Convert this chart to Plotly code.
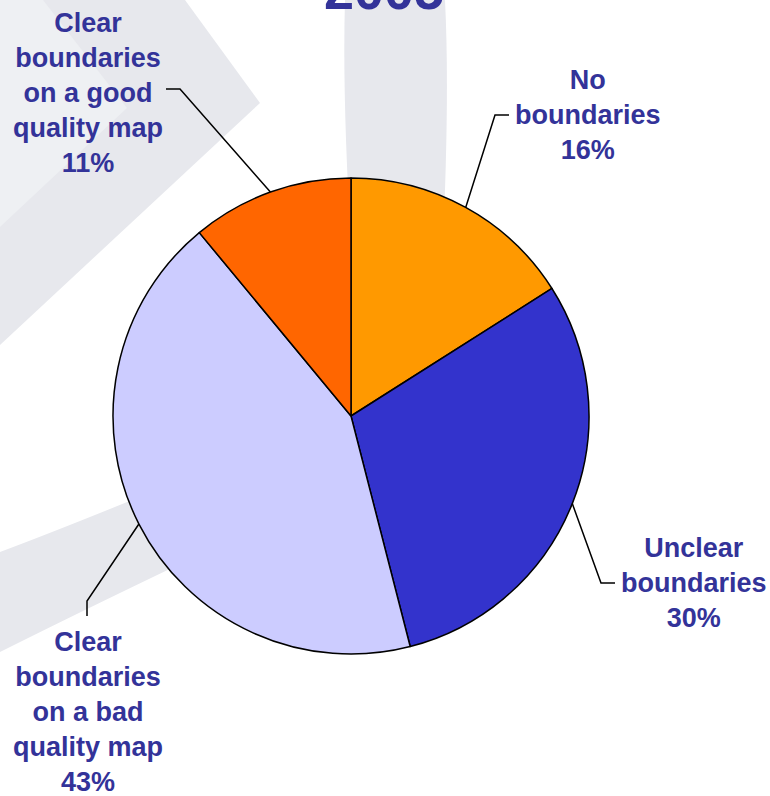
import math
import plotly.graph_objects as go

# ---- data ----
categories = ["No<br>boundaries", "Unclear<br>boundaries",
              "Clear<br>boundaries<br>on a bad<br>quality map",
              "Clear<br>boundaries<br>on a good<br>quality map"]
values = [16, 30, 43, 11]
colors = ["#FF9900", "#3333CC", "#CCCCFF", "#FF6600"]
title_text = "2005"

# ---- layout constants (pixels) ----
W, H = 770, 796
CX, CY, R = 351, 416, 238
TEXT_COLOR = "#333399"
FONT = "Liberation Sans, Arial, sans-serif"

# label placement: (center x, center y, elbow x, elbow y, end x, end y)
label_pos = [
    (588, 115, 495, 115, 509, 115),
    (694, 583, 601, 583, 615, 583),
    (88, 712, 87, 601, 87, 616),
    (88, 93, 180, 89, 166, 89),
]

fig = go.Figure()

fig.add_trace(go.Pie(
    labels=[c.replace("<br>", " ") for c in categories],
    values=values,
    sort=False,
    direction="clockwise",
    rotation=0,
    marker=dict(colors=colors, line=dict(color="black", width=1.5)),
    textinfo="none",
    hoverinfo="none",
    showlegend=False,
    domain=dict(x=[(CX - R) / W, (CX + R) / W],
                y=[1 - (CY + R) / H, 1 - (CY - R) / H]),
))

shapes = []
# ---- faint watermark ----
wm = "#e7e8ed"
wm_light = "#eef0f3"
shapes.append(dict(type="path", path="M 0 0 L 185 0 L 260 103 L 0 345 Z",
                   fillcolor=wm, line=dict(width=0), layer="below", xref="x", yref="y"))
shapes.append(dict(type="path", path="M 0 0 L 43 0 L 127 108 L 0 227 Z",
                   fillcolor=wm_light, line=dict(width=0), layer="below", xref="x", yref="y"))
shapes.append(dict(type="path", path="M 345 0 L 445 0 Q 450 100 442 260 L 352 260 Q 342 100 345 0 Z",
                   fillcolor=wm, line=dict(width=0), layer="below", xref="x", yref="y"))
shapes.append(dict(type="path",
                   path="M 0 552 Q 80 522 200 472 L 220 545 Q 100 602 0 652 Z",
                   fillcolor=wm, line=dict(width=0), layer="below", xref="x", yref="y"))

# ---- leader lines computed from slice mid-angles ----
total = sum(values)
cum = 0
annotations = []
for i, v in enumerate(values):
    mid = (cum + v / 2) / total * 2 * math.pi
    cum += v
    sx = CX + R * math.sin(mid)
    sy = CY - R * math.cos(mid)
    lx, ly, ex, ey, fx, fy = label_pos[i]
    shapes.append(dict(type="path",
                       path=f"M {sx:.1f} {sy:.1f} L {ex} {ey} L {fx} {fy}",
                       line=dict(color="black", width=1.5), layer="above",
                       xref="x", yref="y"))
    pct = round(v / total * 100)
    annotations.append(dict(
        x=lx / W, y=1 - ly / H, xref="paper", yref="paper", showarrow=False,
        xanchor="center", yanchor="middle", align="center",
        text=f"<b>{categories[i]}<br>{pct}%</b>",
        font=dict(family=FONT, size=27, color=TEXT_COLOR),
    ))

annotations.append(dict(
    x=384 / W, y=1 + 10 / H, xref="paper", yref="paper", showarrow=False,
    xanchor="center", yanchor="middle",
    text=f"<b>{title_text}</b>",
    font=dict(family=FONT, size=54, color=TEXT_COLOR),
))

fig.update_layout(
    width=W, height=H,
    margin=dict(l=0, r=0, t=0, b=0),
    paper_bgcolor="white", plot_bgcolor="white",
    xaxis=dict(range=[0, W], visible=False, fixedrange=True, domain=[0, 1]),
    yaxis=dict(range=[H, 0], visible=False, fixedrange=True, domain=[0, 1]),
    shapes=shapes,
    annotations=annotations,
)

fig.write_html("out.html", config={"displayModeBar": False},
               post_script="document.body.style.margin='0';")
